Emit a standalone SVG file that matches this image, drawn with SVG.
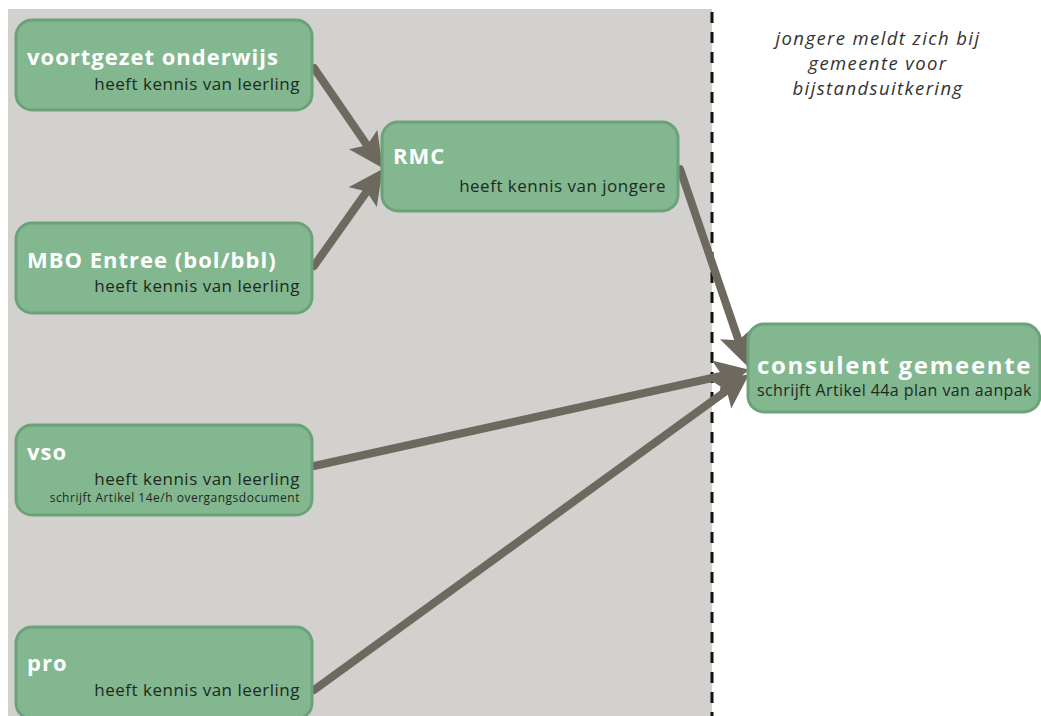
<svg xmlns="http://www.w3.org/2000/svg" width="1041" height="716" viewBox="0 0 1041 716">
<defs>
<style>
.node rect{fill:#82b78f;stroke:#6ba27a;stroke-width:3}
.t{font-family:"Open Sans","Noto Sans",sans-serif;font-weight:700;fill:#ffffff;font-size:22px;letter-spacing:1px}
.s{font-family:"Open Sans","Noto Sans",sans-serif;fill:#1e2a21;font-size:17px;letter-spacing:0.5px;text-anchor:end}
.c{stroke:#6e695f;stroke-width:8;fill:none;stroke-linecap:round}
.note{font-family:"Open Sans","Noto Sans",sans-serif;font-style:italic;fill:#333;font-size:18.5px;letter-spacing:1.4px;text-anchor:middle}
</style>
<marker id="ah" viewBox="0 0 10 10" markerWidth="4.3" markerHeight="4.3" refX="5" refY="5" orient="auto" markerUnits="strokeWidth">
<path d="M0,0 L10,5 L0,10 L2,5 z" fill="#6e695f"/>
</marker>
</defs>
<rect x="0" y="0" width="1041" height="716" fill="#ffffff"/>
<rect x="8" y="9" width="704" height="707" fill="#d3d1ce"/>
<line x1="712" y1="12" x2="712" y2="716" stroke="#111" stroke-width="3" stroke-dasharray="11,9"/>
<g id="note">
<text class="note" x="878" y="45">jongere meldt zich bij</text>
<text class="note" x="878" y="70">gemeente voor</text>
<text class="note" x="878" y="95">bijstandsuitkering</text>
</g>
<g id="connectors">
<line class="c" x1="314" y1="68" x2="372.9" y2="153.8" marker-end="url(#ah)"/>
<line class="c" x1="314" y1="266" x2="372.7" y2="183.1" marker-end="url(#ah)"/>
<line class="c" x1="680" y1="169" x2="741.8" y2="349.9" marker-end="url(#ah)"/>
<line class="c" x1="314" y1="466" x2="732.4" y2="373.5" marker-end="url(#ah)"/>
<line class="c" x1="314" y1="690" x2="735.1" y2="384.4" marker-end="url(#ah)"/>
</g>
<g id="n-vo" class="node">
<rect x="16" y="20" width="296" height="90" rx="16"/>
<text class="t" x="27" y="65">voortgezet onderwijs</text>
<text class="s" x="300" y="90">heeft kennis van leerling</text>
</g>
<g id="n-rmc" class="node">
<rect x="382" y="122" width="296" height="89" rx="16"/>
<text class="t" x="393" y="164">RMC</text>
<text class="s" x="666" y="192">heeft kennis van jongere</text>
</g>
<g id="n-mbo" class="node">
<rect x="16" y="223" width="296" height="90" rx="16"/>
<text class="t" x="27" y="268">MBO Entree (bol/bbl)</text>
<text class="s" x="300" y="292">heeft kennis van leerling</text>
</g>
<g id="n-vso" class="node">
<rect x="16" y="425" width="296" height="90" rx="16"/>
<text class="t" x="27" y="460">vso</text>
<text class="s" x="300" y="485">heeft kennis van leerling</text>
<text class="s" x="300" y="502" style="font-size:12px;letter-spacing:0.5px">schrijft Artikel 14e/h overgangsdocument</text>
</g>
<g id="n-pro" class="node">
<rect x="16" y="627" width="296" height="92" rx="16"/>
<text class="t" x="27" y="671">pro</text>
<text class="s" x="300" y="696">heeft kennis van leerling</text>
</g>
<g id="n-cons" class="node">
<rect x="748" y="324" width="292" height="88" rx="16"/>
<text class="t" x="757" y="374" style="font-size:24px;letter-spacing:1.7px">consulent gemeente</text>
<text class="s" x="757" y="396" style="text-anchor:start;font-size:16px;letter-spacing:0.4px">schrijft Artikel 44a plan van aanpak</text>
</g>
</svg>
